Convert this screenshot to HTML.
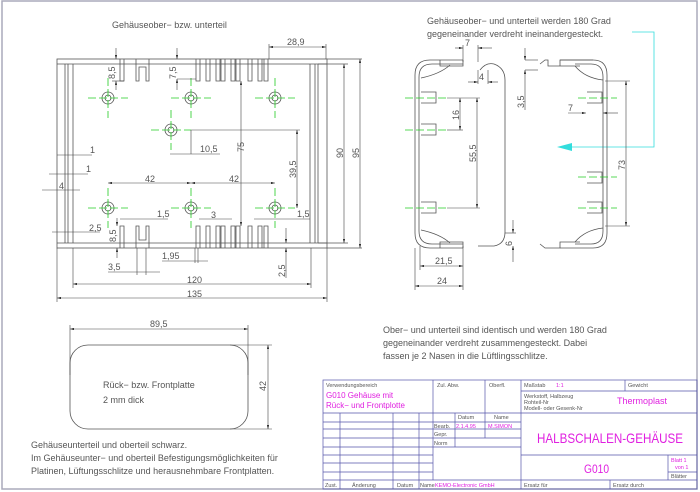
<!DOCTYPE html>
<html><head><meta charset="utf-8"><style>
html,body{margin:0;padding:0;background:#fff;}
svg{display:block;}
text{font-family:"Liberation Sans",sans-serif;font-size:9px;fill:#555;}
.s text{font-size:5.5px;}
.m{fill:#e020e0;}
</style></head><body>
<svg width="700" height="492" viewBox="0 0 700 492" xmlns="http://www.w3.org/2000/svg">
<defs>
<marker id="a" viewBox="0 0 10 6" refX="10" refY="3" markerWidth="7" markerHeight="4" orient="auto-start-reverse"><path d="M0,0L10,3L0,6z" fill="#333"/></marker>
</defs>
<rect x="2" y="1" width="695" height="488" fill="none" stroke="#aab" stroke-width="1.5"/>

<g stroke="#555" stroke-width="0.8" fill="none">
<rect x="57" y="59" width="270" height="189"/>
<line x1="57" y1="64" x2="327" y2="64"/><line x1="57" y1="243" x2="327" y2="243"/>
<line x1="65" y1="64" x2="65" y2="243"/><line x1="68" y1="64" x2="68" y2="243"/><line x1="73" y1="64" x2="73" y2="243"/>
<line x1="310" y1="64" x2="310" y2="243"/><line x1="315" y1="64" x2="315" y2="243"/><line x1="318" y1="64" x2="318" y2="243"/>
<line x1="327" y1="59" x2="362" y2="59"/><line x1="327" y1="248" x2="362" y2="248"/>
<line x1="318" y1="64" x2="348" y2="64"/><line x1="318" y1="243" x2="348" y2="243"/>
<path d="M120,59V81H124V59M136,59V81H139V67H146V81H149V59M196,59V81H200V59M206,59V81H210V59M216,59V81H220V59M221,59V81H225V59M231,59V81H235V59M236,59V81H240V59M248,59V81H252V59M258,59V81H262V59M264,59V81H268V59"/>
<path d="M120,248V226H124V248M136,248V226H139V240H146V226H149V248M196,248V226H200V248M206,248V226H210V248M216,248V226H220V248M221,248V226H225V248M231,248V226H235V248M236,248V226H240V248M248,248V226H252V248M258,248V226H262V248M264,248V226H268V248"/>
<g>
<circle cx="108" cy="98" r="6"/><circle cx="108" cy="98" r="3"/>
<circle cx="191" cy="98" r="6"/><circle cx="191" cy="98" r="3"/>
<circle cx="275" cy="98" r="6"/><circle cx="275" cy="98" r="3"/>
<circle cx="171" cy="130" r="6"/><circle cx="171" cy="130" r="3"/>
<circle cx="108" cy="208" r="6"/><circle cx="108" cy="208" r="3"/>
<circle cx="191" cy="208" r="6"/><circle cx="191" cy="208" r="3"/>
<circle cx="275" cy="208" r="6"/><circle cx="275" cy="208" r="3"/>
</g>
</g>
<g stroke="#2c2" stroke-width="0.8" stroke-dasharray="8,3">
<path d="M88,98H128M108,78V118M171,98H211M191,78V118M255,98H295M275,78V118M151,130H191M171,110V150M88,208H128M108,188V228M171,208H211M191,188V228M255,208H295M275,188V228"/>
</g>

<g stroke="#444" stroke-width="0.6" fill="none">
<line x1="269" y1="47" x2="326" y2="47" marker-start="url(#a)" marker-end="url(#a)"/><line x1="269" y1="44" x2="269" y2="59"/><line x1="326" y1="44" x2="326" y2="59"/>
<line x1="116" y1="48" x2="116" y2="59" marker-end="url(#a)"/><line x1="116" y1="81" x2="116" y2="90" marker-start="url(#a)"/><line x1="112" y1="81" x2="124" y2="81"/>
<line x1="177" y1="48" x2="177" y2="59" marker-end="url(#a)"/><line x1="177" y1="79" x2="177" y2="90" marker-start="url(#a)"/><line x1="177" y1="79" x2="196" y2="79"/>
<line x1="57" y1="155" x2="92" y2="155"/><line x1="49" y1="174" x2="88" y2="174"/><line x1="42" y1="190" x2="80" y2="190"/>
<line x1="170" y1="154" x2="220" y2="154"/><line x1="191" y1="130" x2="191" y2="154"/>
<line x1="191" y1="130" x2="300" y2="130"/>
<line x1="241" y1="81" x2="241" y2="226" marker-start="url(#a)" marker-end="url(#a)"/>
<line x1="297" y1="130" x2="297" y2="208" marker-start="url(#a)" marker-end="url(#a)"/>
<line x1="344" y1="64" x2="344" y2="243" marker-start="url(#a)" marker-end="url(#a)"/>
<line x1="360" y1="59" x2="360" y2="248" marker-start="url(#a)" marker-end="url(#a)"/>
<line x1="108" y1="183" x2="191" y2="183" marker-start="url(#a)" marker-end="url(#a)"/>
<line x1="191" y1="183" x2="275" y2="183" marker-start="url(#a)" marker-end="url(#a)"/>
<line x1="120" y1="219" x2="168" y2="219"/><line x1="199" y1="219" x2="232" y2="219"/><line x1="254" y1="219" x2="310" y2="219"/>
<line x1="52" y1="232" x2="100" y2="232"/>
<line x1="117" y1="218" x2="117" y2="226" marker-end="url(#a)"/><line x1="117" y1="248" x2="117" y2="258" marker-start="url(#a)"/>
<line x1="162" y1="261" x2="208" y2="261"/><line x1="195" y1="248" x2="195" y2="263"/><line x1="198" y1="248" x2="198" y2="263"/>
<line x1="108" y1="272" x2="160" y2="272"/><line x1="137" y1="248" x2="137" y2="275"/><line x1="146" y1="248" x2="146" y2="275"/>
<line x1="286" y1="228" x2="286" y2="243" marker-end="url(#a)"/><line x1="286" y1="248" x2="286" y2="278" marker-start="url(#a)"/>
<line x1="73" y1="284" x2="311" y2="284" marker-start="url(#a)" marker-end="url(#a)"/><line x1="73" y1="248" x2="73" y2="288"/><line x1="311" y1="248" x2="311" y2="288"/>
<line x1="57" y1="298" x2="327" y2="298" marker-start="url(#a)" marker-end="url(#a)"/><line x1="57" y1="248" x2="57" y2="302"/><line x1="327" y1="248" x2="327" y2="302"/>
</g>
<text x="112" y="28">Gehäuseober− bzw. unterteil</text>
<text x="287" y="45">28,9</text>
<text transform="translate(115,79) rotate(-90)">8,5</text>
<text transform="translate(176,79) rotate(-90)">7,5</text>
<text x="90" y="153">1</text><text x="86" y="172">1</text><text x="59" y="189">4</text>
<text x="200" y="152">10,5</text>
<text transform="translate(244,152) rotate(-90)">75</text>
<text transform="translate(296,178) rotate(-90)">39,5</text>
<text transform="translate(343,158) rotate(-90)">90</text>
<text transform="translate(359,158) rotate(-90)">95</text>
<text x="145" y="182">42</text><text x="229" y="182">42</text>
<text x="157" y="217">1,5</text><text x="297" y="217">1,5</text><text x="211" y="218">3</text>
<text x="89" y="231">2,5</text>
<text transform="translate(116,242) rotate(-90)">8,5</text>
<text x="162" y="259">1,95</text><text x="108" y="270">3,5</text>
<text transform="translate(285,277) rotate(-90)">2,5</text>
<text x="187" y="283">120</text><text x="187" y="297">135</text>

<text x="427" y="24">Gehäuseober− und unterteil werden 180 Grad</text>
<text x="427" y="37">gegeneinander verdreht ineinandergesteckt.</text>
<path d="M632,32H654V147H572" stroke="#3dd" stroke-width="0.8" fill="none"/>
<path d="M557,147L572,143V151z" fill="#3dd"/>
<g stroke="#555" stroke-width="0.8" fill="none">
<path d="M463,60H430Q415,60 415,75V233Q415,248 430,248H463"/>
<path d="M463,64H432Q419,64 419,77V231Q419,244 432,244H463"/>
<path d="M480,70Q486,62 494,64Q505,68 505,80V232Q505,244 494,246H478"/>
<path d="M440,60V66H463V60M440,248V242H463V248"/>
<path d="M421,78Q440,74 450,65M421,230Q440,234 450,243"/>
<path d="M421,92H436V103H421M421,124H436V135H421M421,202H436V213H421"/>
<path d="M593,60H560V66H580M540,64L545,60H548V66H560"/>
<path d="M560,60H593Q607,60 607,75V233Q607,248 593,248H560"/>
<path d="M575,64H591Q603,64 603,77V231Q603,244 591,244H575"/>
<path d="M540,244L545,248H560V242H580"/>
<path d="M603,80Q585,78 575,66M603,228Q585,230 575,242"/>
<path d="M587,92H602V103H587M587,172H602V183H587M587,202H602V213H587"/>
</g>
<g stroke="#2c2" stroke-width="0.8" stroke-dasharray="8,3">
<path d="M405,98H447M405,130H447M405,208H447M578,98H617M578,177H617M578,208H617"/>
</g>
<g stroke="#444" stroke-width="0.6" fill="none">
<line x1="455" y1="48" x2="463" y2="48" marker-end="url(#a)"/><line x1="478" y1="48" x2="492" y2="48" marker-start="url(#a)"/><line x1="463" y1="45" x2="463" y2="62"/><line x1="478" y1="45" x2="478" y2="62"/>
<line x1="468" y1="82" x2="478" y2="82" marker-end="url(#a)"/><line x1="488" y1="82" x2="498" y2="82" marker-start="url(#a)"/><line x1="478" y1="70" x2="478" y2="84"/><line x1="488" y1="70" x2="488" y2="84"/>
<line x1="525" y1="48" x2="525" y2="60" marker-end="url(#a)"/><line x1="525" y1="70" x2="525" y2="110" marker-start="url(#a)"/><line x1="525" y1="60" x2="538" y2="60"/><line x1="525" y1="70" x2="538" y2="70"/>
<line x1="460" y1="98" x2="460" y2="130" marker-start="url(#a)" marker-end="url(#a)"/><line x1="447" y1="98" x2="480" y2="98"/><line x1="447" y1="130" x2="463" y2="130"/>
<line x1="477" y1="98" x2="477" y2="208" marker-start="url(#a)" marker-end="url(#a)"/><line x1="447" y1="208" x2="480" y2="208"/>
<line x1="513" y1="220" x2="513" y2="233" marker-end="url(#a)"/><line x1="513" y1="246" x2="513" y2="262" marker-start="url(#a)"/><line x1="505" y1="233" x2="516" y2="233"/>
<line x1="420" y1="266" x2="463" y2="266" marker-start="url(#a)" marker-end="url(#a)"/><line x1="420" y1="246" x2="420" y2="270"/><line x1="463" y1="246" x2="463" y2="290"/>
<line x1="415" y1="286" x2="463" y2="286" marker-start="url(#a)" marker-end="url(#a)"/><line x1="415" y1="248" x2="415" y2="290"/>
<line x1="568" y1="113" x2="586" y2="113" marker-end="url(#a)"/><line x1="603" y1="113" x2="618" y2="113" marker-start="url(#a)"/>
<line x1="626" y1="81" x2="626" y2="226" marker-start="url(#a)" marker-end="url(#a)"/><line x1="605" y1="81" x2="630" y2="81"/><line x1="605" y1="226" x2="630" y2="226"/>
</g>
<text x="465" y="46">7</text><text x="479" y="80">4</text>
<text transform="translate(524,108) rotate(-90)">3,5</text>
<text transform="translate(459,120) rotate(-90)">16</text>
<text transform="translate(476,162) rotate(-90)">55,5</text>
<text transform="translate(512,246) rotate(-90)">6</text>
<text x="435" y="264">21,5</text><text x="437" y="284">24</text>
<text x="568" y="111">7</text>
<text transform="translate(625,170) rotate(-90)">73</text>

<text x="383" y="333">Ober− und unterteil sind identisch und werden 180 Grad</text>
<text x="383" y="346">gegeneinander verdreht zusammengesteckt. Dabei</text>
<text x="383" y="359">fassen je 2 Nasen in die Lüftlingsschlitze.</text>

<rect x="70" y="345" width="178" height="84" rx="18" fill="none" stroke="#555" stroke-width="0.8"/>
<g stroke="#444" stroke-width="0.6">
<line x1="70" y1="329" x2="248" y2="329" marker-start="url(#a)" marker-end="url(#a)"/><line x1="70" y1="325" x2="70" y2="375"/><line x1="248" y1="325" x2="248" y2="375"/>
<line x1="268" y1="345" x2="268" y2="429" marker-start="url(#a)" marker-end="url(#a)"/><line x1="230" y1="345" x2="272" y2="345"/><line x1="230" y1="429" x2="272" y2="429"/>
</g>
<text x="150" y="327">89,5</text>
<text transform="translate(266,391) rotate(-90)">42</text>
<text x="103" y="388">Rück− bzw. Frontplatte</text>
<text x="103" y="403">2 mm dick</text>
<text x="31" y="448">Gehäuseunterteil und oberteil schwarz.</text>
<text x="31" y="461">Im Gehäuseunter− und oberteil Befestigungsmöglichkeiten für</text>
<text x="31" y="474">Platinen, Lüftungsschlitze und herausnehmbare Frontplatten.</text>

<g stroke="#55a" stroke-width="0.7" fill="none">
<rect x="323" y="380" width="374" height="109"/>
<line x1="323" y1="413" x2="697" y2="413"/>
<line x1="433" y1="380" x2="433" y2="480"/><line x1="485" y1="380" x2="485" y2="438"/><line x1="521" y1="380" x2="521" y2="489"/>
<line x1="625" y1="380" x2="625" y2="391"/><line x1="521" y1="391" x2="697" y2="391"/>
<line x1="323" y1="422" x2="433" y2="422"/><line x1="323" y1="429" x2="521" y2="429"/><line x1="323" y1="438" x2="521" y2="438"/>
<line x1="323" y1="447" x2="521" y2="447"/><line x1="323" y1="455" x2="433" y2="455"/><line x1="323" y1="463" x2="433" y2="463"/>
<line x1="323" y1="472" x2="433" y2="472"/><line x1="323" y1="480" x2="697" y2="480"/>
<line x1="433" y1="422" x2="521" y2="422"/><line x1="521" y1="455" x2="697" y2="455"/>
<line x1="340" y1="413" x2="340" y2="489"/><line x1="393" y1="413" x2="393" y2="489"/><line x1="419" y1="413" x2="419" y2="489"/>
<line x1="455" y1="413" x2="455" y2="447"/>
<line x1="668" y1="455" x2="668" y2="480"/><line x1="668" y1="472" x2="697" y2="472"/>
<line x1="610" y1="480" x2="610" y2="489"/>
</g>
<g class="s">
<text x="326" y="387">Verwendungsbereich</text>
<text x="437" y="387">Zul. Abw.</text>
<text x="489" y="387">Oberfl.</text>
<text x="524" y="387">Maßstab</text><text x="556" y="387" class="m">1:1</text>
<text x="628" y="387">Gewicht</text>
<text x="524" y="398">Werkstoff, Halbzeug</text><text x="524" y="404">Rohteil-Nr</text><text x="524" y="410">Modell- oder Gesenk-Nr</text>
<text x="458" y="419">Datum</text><text x="494" y="419">Name</text>
<text x="434" y="428">Bearb.</text><text x="434" y="436">Gepr.</text><text x="434" y="445">Norm</text>
<text x="456" y="428" class="m">2.1.4.95</text><text x="488" y="428" class="m">M.SIMON</text>
<text x="325" y="487">Zust.</text><text x="352" y="487">Änderung</text><text x="397" y="487">Datum</text><text x="420" y="487">Name</text>
<text x="435" y="487" class="m">KEMO-Electronic GmbH</text>
<text x="524" y="487">Ersatz für</text><text x="613" y="487">Ersatz durch</text>
<text x="671" y="462" class="m">Blatt 1</text><text x="675" y="469" class="m">von 1</text><text x="671" y="478">Blätter</text>
</g>
<text x="326" y="398" class="m" style="font-size:8px">G010 Gehäuse mit</text>
<text x="326" y="408" class="m" style="font-size:8px">Rück− und Frontplotte</text>
<text x="617" y="404" class="m" style="font-size:9px">Thermoplast</text>
<text x="537" y="443" class="m" style="font-size:14px" textLength="146" lengthAdjust="spacingAndGlyphs">HALBSCHALEN-GEHÄUSE</text>
<text x="584" y="473" class="m" style="font-size:12px" textLength="25" lengthAdjust="spacingAndGlyphs">G010</text>
</svg>
</body></html>
